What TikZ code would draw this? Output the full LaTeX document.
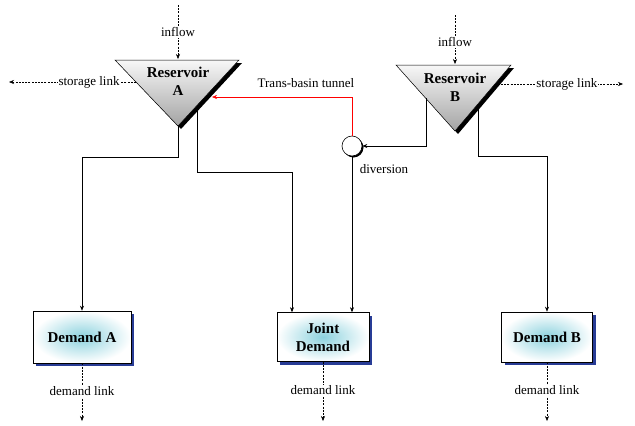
\documentclass[tikz,border=0pt]{standalone}
\usepackage{fontspec}
\setmainfont{Liberation Serif}
\usetikzlibrary{arrows.meta,shadows}
\definecolor{boxcyan}{RGB}{140,210,222}
\definecolor{shadowblue}{RGB}{40,60,150}
\begin{document}
\begin{tikzpicture}[x=1pt,y=-1pt,
  lbl/.style={font=\fontsize{13}{15}\selectfont, fill=white, inner sep=1pt},
  plain/.style={font=\fontsize{13}{15}\selectfont, inner sep=1pt},
  dlink/.style={dash pattern=on 2pt off 1.2pt, line width=0.5pt, -{Stealth[length=5pt,width=4pt]}},
  flow/.style={line width=0.5pt, -{Stealth[length=5pt,width=4pt]}},
  resv/.style={font=\bfseries\fontsize{15}{18}\selectfont, align=center, inner sep=0pt},
  demand/.style={draw=black, line width=0.6pt, inner color=boxcyan, outer color=white,
    font=\bfseries\fontsize{15}{18}\selectfont, align=center, inner sep=0pt,
    drop shadow={shadow xshift=3pt, shadow yshift=-3pt, fill=shadowblue, opacity=1}},
  tri/.style={top color=gray!6, bottom color=gray!72, draw=black, line width=0.5pt},
  trishadow/.style={fill=black}
]
\useasboundingbox (0,0) rectangle (635,426);

% Reservoir A
\coordinate (tAl) at (115,60);
\coordinate (tAr) at (239,60);
\coordinate (tAb) at (178,126);
\fill[trishadow] ([shift={(3,3)}]tAl) -- ([shift={(3,3)}]tAr) -- ([shift={(3,3)}]tAb) -- cycle;
\shade[tri] (tAl) -- (tAr) -- (tAb) -- cycle;
\node[resv] (rA) at (178,81) {Reservoir\\A};

% Reservoir B
\coordinate (tBl) at (396,65);
\coordinate (tBr) at (511,65);
\coordinate (tBb) at (455,131);
\fill[trishadow] ([shift={(3,3)}]tBl) -- ([shift={(3,3)}]tBr) -- ([shift={(3,3)}]tBb) -- cycle;
\shade[tri] (tBl) -- (tBr) -- (tBb) -- cycle;
\node[resv] (rB) at (455,87) {Reservoir\\B};

% diversion
\node[circle, draw=black, fill=white, line width=0.6pt, minimum size=20pt, inner sep=0pt,
  drop shadow={shadow xshift=1.5pt, shadow yshift=-1.5pt, fill=black, opacity=1}] (div) at (352,146) {};
\node[plain] (divl) at (384,169) {diversion};

% demands
\node[demand, minimum width=98pt, minimum height=52pt] (dA) at (82,337) {Demand A};
\node[demand, minimum width=92pt, minimum height=49pt] (dJ) at (323,337) {Joint\\Demand};
\node[demand, minimum width=91pt, minimum height=50pt] (dB) at (547,337) {Demand B};

% inflows
\coordinate (iA) at (178,5);
\coordinate (tAtop) at (178,59);
\draw[dlink] (iA) -- (tAtop) node[lbl, pos=0.5] {inflow};
\coordinate (iB) at (455,15);
\coordinate (tBtop) at (455,64);
\draw[dlink] (iB) -- (tBtop) node[lbl, pos=0.55] {inflow};

% storage links
\coordinate (sAe) at (136,82);
\coordinate (sAend) at (9,82);
\draw[dlink] (sAe) -- (sAend) node[lbl, pos=0.37] {storage link};
\coordinate (sBe) at (501,84);
\coordinate (sBend) at (623,84);
\draw[dlink] (sBe) -- (sBend) node[lbl, pos=0.54] {storage link};

% flows
\draw[flow] (tAb) -- (178,157) -| (dA.north);
\coordinate (aOut2) at (197,107);
\draw[flow] (aOut2) -- (197,172) -| ([xshift=-31pt]dJ.north);
\coordinate (rAin) at (212,97);
\draw[flow, red] (div.north) |- (rAin);
\node[plain] (tun) at (306,83) {Trans-basin tunnel};
\coordinate (bOut1) at (426,98);
\draw[flow] (bOut1) |- (div.east);
\draw[flow] (div.south) -- (div.south |- dJ.north);
\coordinate (bOut2) at (478,108);
\draw[flow] (bOut2) -- (478,156) -| (dB.north);

% demand links
\coordinate (eA) at (82,421);
\coordinate (eJ) at (323,421);
\coordinate (eB) at (547,421);
\draw[dlink] (dA.south) -- (eA) node[lbl, pos=0.48] {demand link};
\draw[dlink] (dJ.south) -- (eJ) node[lbl, pos=0.48] {demand link};
\draw[dlink] (dB.south) -- (eB) node[lbl, pos=0.48] {demand link};
\end{tikzpicture}
\end{document}
